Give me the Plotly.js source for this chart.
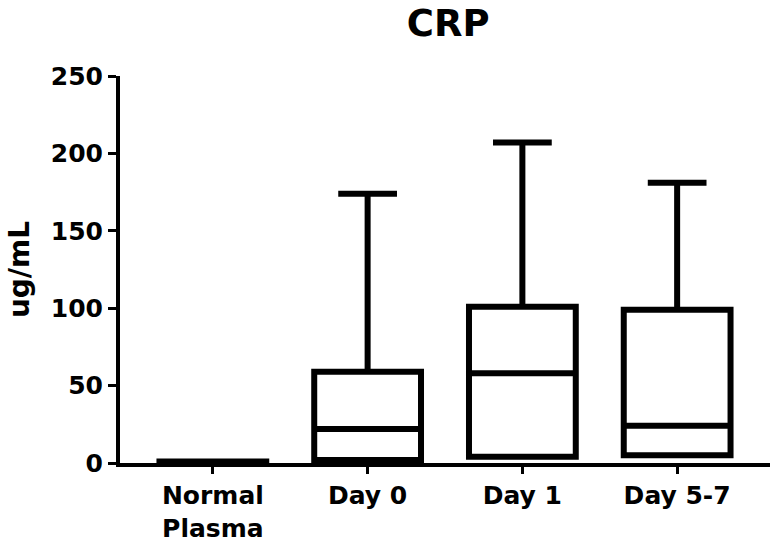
<!DOCTYPE html>
<html>
<head>
<meta charset="utf-8">
<script src="https://cdn.plot.ly/plotly-3.0.1.min.js"></script>
<style>html,body{margin:0;padding:0;background:#fff;}#chart{width:780px;height:554px;}</style>
</head>
<body>
<div id="chart"></div>
<script>
const categories = ["Normal<br>Plasma", "Day 0", "Day 1", "Day 5-7"];
const lowerFence = [0, 2, 4, 5];
const q1 = [0, 2, 4, 5];
const median = [0.5, 22, 58, 24];
const q3 = [1, 59, 101, 99];
const upperFence = [1, 174, 207, 181];
const yTicks = [0, 50, 100, 150, 200, 250];

const trace = {
  type: "box",
  x: categories,
  q1: q1,
  median: median,
  q3: q3,
  lowerfence: lowerFence,
  upperfence: upperFence,
  boxpoints: false,
  fillcolor: "rgba(255,255,255,0)",
  line: {color: "#000", width: 6},
  whiskerwidth: 0.55,
  hoverinfo: "none"
};

const FAM = "DejaVu Sans, Liberation Sans, Arial, sans-serif";

const layout = {
  width: 780, height: 554,
  margin: {l: 120, r: 10, t: 76, b: 91},
  paper_bgcolor: "#fff", plot_bgcolor: "#fff",
  showlegend: false,
  boxgap: 0.31,
  boxgroupgap: 0,
  title: {text: "CRP", font: {family: FAM, size: 37, color: "#000", weight: "bold"}, xref: "paper", x: 0.505, xanchor: "center", yref: "container", y: 0.958, yanchor: "middle"},
  xaxis: {
    type: "category",
    range: [-0.6, 3.6],
    showline: true, linecolor: "#000", linewidth: 4,
    ticks: "outside", ticklen: 7, tickwidth: 3, tickcolor: "#000",
    showgrid: false, zeroline: false,
    tickfont: {family: FAM, size: 25, color: "#000", weight: "bold"},
    fixedrange: true
  },
  yaxis: {
    range: [0, 250],
    tickvals: yTicks,
    ticktext: yTicks.map(String),
    showline: true, linecolor: "#000", linewidth: 4,
    ticks: "outside", ticklen: 8, tickwidth: 3, tickcolor: "#000",
    showgrid: false, zeroline: false,
    tickfont: {family: FAM, size: 25, color: "#000", weight: "bold"},
    title: {text: "ug/mL", font: {family: FAM, size: 28, color: "#000", weight: "bold"}, standoff: 14},
    fixedrange: true
  }
};

Plotly.newPlot("chart", [trace], layout, {displayModeBar: false, staticPlot: true});
</script>
</body>
</html>
